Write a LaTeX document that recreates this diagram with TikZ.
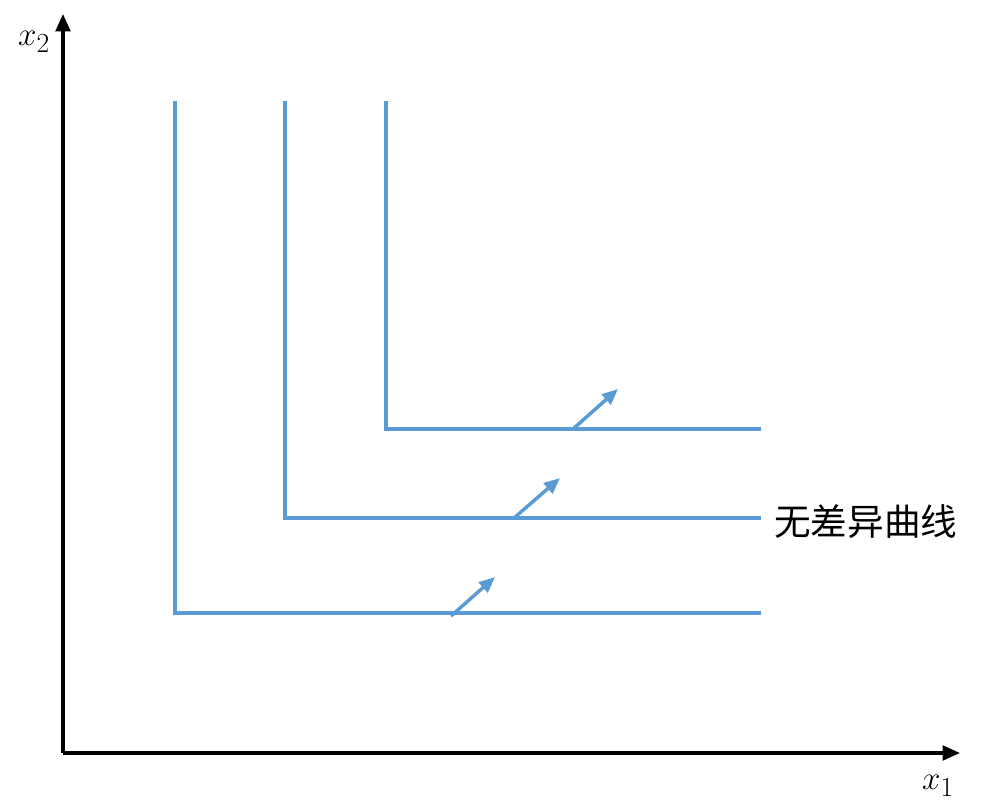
\documentclass[tikz,border=0pt]{standalone}
\usepackage{fontspec}
\usetikzlibrary{arrows.meta}
\newfontfamily\cjk{Noto Sans CJK SC}
\begin{document}
\begin{tikzpicture}[x=0.75pt,y=-0.75pt,
  axis/.style={line width=2.3pt,-{Triangle[length=13pt,width=11pt]}},
  curve/.style={draw=curveblue,line width=2.8pt},
  move/.style={curveblue,line width=2.6pt,-{Triangle[length=12pt,width=10pt]}}]
\definecolor{curveblue}{HTML}{5B9BD5}
\useasboundingbox (0,0) rectangle (999,809);
\coordinate (O) at (63,753);
\coordinate (Ytop) at (63,14);
\coordinate (Xend) at (960,753);
\draw[axis] (O) -- (Ytop);
\draw[axis] (O) -- (Xend);
\node (x2) at (34,42) {\fontsize{32}{36}\selectfont $x_2$};
\node (x1) at (938,786) {\fontsize{32}{36}\selectfont $x_1$};
\draw[curve] (175,101) -- (175,613) -- (761,613);
\draw[curve] (285,101) -- (285,518) -- (761,518);
\draw[curve] (386,101) -- (386,429) -- (761,429);
\coordinate (a1) at (451,616); \coordinate (b1) at (495,577);
\coordinate (a2) at (514,518); \coordinate (b2) at (560,478);
\coordinate (a3) at (573,429); \coordinate (b3) at (618,389);
\draw[move] (a1) -- (b1);
\draw[move] (a2) -- (b2);
\draw[move] (a3) -- (b3);
\node[anchor=west,inner sep=0pt] (lbl) at (774,522) {\cjk\fontsize{27.5}{30}\selectfont 无差异曲线};
\end{tikzpicture}
\end{document}
